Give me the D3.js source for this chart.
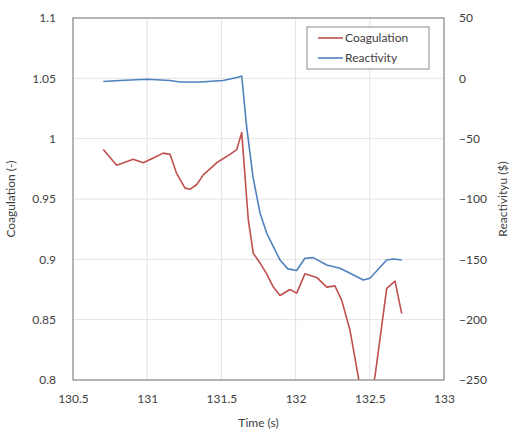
<!DOCTYPE html>
<html>
<head>
<meta charset="utf-8">
<script src="https://cdn.jsdelivr.net/npm/d3@7"></script>
<style>
    body { margin: 0; background: #fff; }
    text { font-family: Lato, "Liberation Sans", sans-serif; fill: #404040; }
</style>
</head>
<body>
<svg id="chart" width="512" height="438"></svg>
<script>
// Time stamps (s) of the coagulation series
var coagTime = [130.704, 130.794, 130.906, 130.974, 131.041, 131.108, 131.154, 131.199,
    131.255, 131.288, 131.334, 131.378, 131.468, 131.558, 131.603, 131.637, 131.659,
    131.681, 131.715, 131.760, 131.805, 131.850, 131.895, 131.962, 132.007, 132.063,
    132.142, 132.210, 132.265, 132.311, 132.367, 132.422, 132.474, 132.535, 132.614,
    132.670, 132.715];
// Coagulation values (-)
var coagValues = [0.991, 0.978, 0.983, 0.980, 0.984, 0.988, 0.987, 0.971,
    0.959, 0.958, 0.962, 0.970, 0.980, 0.987, 0.991, 1.005, 0.969,
    0.933, 0.905, 0.897, 0.888, 0.877, 0.870, 0.875, 0.872, 0.888,
    0.885, 0.877, 0.878, 0.866, 0.841, 0.803, 0.763, 0.803, 0.876,
    0.882, 0.855];

// Time stamps (s) of the reactivity series
var reactTime = [130.704, 130.817, 130.999, 131.154, 131.221, 131.356, 131.511, 131.605,
    131.637, 131.670, 131.713, 131.760, 131.805, 131.895, 131.948, 132.007, 132.063,
    132.119, 132.210, 132.299, 132.367, 132.456, 132.501, 132.614, 132.658, 132.715];
// Reactivity values ($)
var reactValues = [-2.6, -1.8, -0.8, -1.8, -3.0, -3.0, -1.8, 0.7,
    1.9, -40.1, -81.8, -111.6, -128.2, -150.6, -157.9, -159.3, -149.1,
    -148.6, -154.7, -157.4, -161.6, -167.1, -165.7, -150.5, -149.7, -150.5];

// Tick labels
var xTicks = [130.5, 131, 131.5, 132, 132.5, 133];
var leftTicks = [0.8, 0.85, 0.9, 0.95, 1, 1.05, 1.1];
var rightTicks = [-250, -200, -150, -100, -50, 0, 50];

var seriesNames = ['Coagulation', 'Reactivity'];
var seriesColors = ['#C0504D', '#4F81BD'];

// Chart margins
var margin = { top: 18, right: 68, bottom: 58, left: 73 },
    svg = d3.select('#chart'),
    width = +svg.attr('width') - margin.left - margin.right,
    height = +svg.attr('height') - margin.top - margin.bottom;

var g = svg.append('g')
    .attr('transform', 'translate(' + margin.left + ',' + margin.top + ')');

// Scales
var xScale = d3.scaleLinear().domain([130.5, 133]).range([0, width]),
    yLeft = d3.scaleLinear().domain([0.8, 1.1]).range([height, 0]),
    yRight = d3.scaleLinear().domain([-250, 50]).range([height, 0]);

// Gridlines
g.append('g')
    .selectAll('line.vgrid')
    .data(xTicks)
    .enter()
    .append('line')
    .attr('x1', function(d) { return xScale(d); })
    .attr('x2', function(d) { return xScale(d); })
    .attr('y1', 0)
    .attr('y2', height)
    .attr('stroke', '#e3e3e3');

g.append('g')
    .selectAll('line.hgrid')
    .data(leftTicks)
    .enter()
    .append('line')
    .attr('x1', 0)
    .attr('x2', width)
    .attr('y1', function(d) { return yLeft(d); })
    .attr('y2', function(d) { return yLeft(d); })
    .attr('stroke', '#e3e3e3');

// Clip the lines to the plot area
svg.append('defs').append('clipPath')
    .attr('id', 'plotClip')
    .append('rect')
    .attr('width', width)
    .attr('height', height);

var lines = g.append('g').attr('clip-path', 'url(#plotClip)');

var coagLine = d3.line()
    .x(function(d, i) { return xScale(coagTime[i]); })
    .y(function(d) { return yLeft(d); });

var reactLine = d3.line()
    .x(function(d, i) { return xScale(reactTime[i]); })
    .y(function(d) { return yRight(d); });

lines.append('path')
    .datum(reactValues)
    .attr('d', reactLine)
    .attr('fill', 'none')
    .attr('stroke', seriesColors[1])
    .attr('stroke-width', 1.6)
    .attr('stroke-linejoin', 'round');

lines.append('path')
    .datum(coagValues)
    .attr('d', coagLine)
    .attr('fill', 'none')
    .attr('stroke', seriesColors[0])
    .attr('stroke-width', 1.6)
    .attr('stroke-linejoin', 'round');

// Plot border
g.append('rect')
    .attr('width', width)
    .attr('height', height)
    .attr('fill', 'none')
    .attr('stroke', '#8c8c8c')
    .attr('stroke-width', 1.2);

// Axes
var xAxis = d3.axisBottom(xScale).tickValues(xTicks).tickSize(0).tickPadding(14)
    .tickFormat(d3.format('~g'));
var leftAxis = d3.axisLeft(yLeft).tickValues(leftTicks).tickSize(0).tickPadding(17)
    .tickFormat(d3.format('~g'));
var rightAxis = d3.axisRight(yRight).tickValues(rightTicks).tickSize(0).tickPadding(15)
    .tickFormat(d3.format('~g'));

g.append('g')
    .attr('transform', 'translate(0,' + height + ')')
    .call(xAxis)
    .call(function(a) { a.select('.domain').remove(); })
    .selectAll('text').attr('font-size', '12px').attr('fill', '#404040');

g.append('g')
    .call(leftAxis)
    .call(function(a) { a.select('.domain').remove(); })
    .selectAll('text').attr('font-size', '12px').attr('fill', '#404040');

g.append('g')
    .attr('transform', 'translate(' + width + ',0)')
    .call(rightAxis)
    .call(function(a) { a.select('.domain').remove(); })
    .selectAll('text')
    .attr('font-size', '12px')
    .attr('fill', '#404040')
    .attr('text-anchor', 'start');

// Axis titles
g.append('text')
    .attr('x', width / 2)
    .attr('y', height + 47)
    .attr('text-anchor', 'middle')
    .attr('font-size', '12px')
    .text('Time (s)');

g.append('text')
    .attr('transform', 'translate(' + (-58) + ',' + height / 2 + ') rotate(-90)')
    .attr('text-anchor', 'middle')
    .attr('font-size', '12px')
    .text('Coagulation (-)');

g.append('text')
    .attr('transform', 'translate(' + (width + 63) + ',' + height / 2 + ') rotate(-90)')
    .attr('text-anchor', 'middle')
    .attr('font-size', '12px')
    .text('Reactivityu ($)');

// Legend
var legend = g.append('g')
    .attr('transform', 'translate(' + (width - 137) + ',9)');

legend.append('rect')
    .attr('width', 122)
    .attr('height', 42)
    .attr('fill', '#fff')
    .attr('stroke', '#8c8c8c');

var legendItems = legend.selectAll('g.item')
    .data(seriesNames)
    .enter()
    .append('g')
    .attr('transform', function(d, i) { return 'translate(0,' + (11 + i * 20) + ')'; });

legendItems.append('line')
    .attr('x1', 11)
    .attr('x2', 36)
    .attr('stroke', function(d, i) { return seriesColors[i]; })
    .attr('stroke-width', 1.6);

legendItems.append('text')
    .attr('x', 38)
    .attr('y', 4)
    .attr('font-size', '12px')
    .text(function(d) { return d; });
</script>
</body>
</html>
